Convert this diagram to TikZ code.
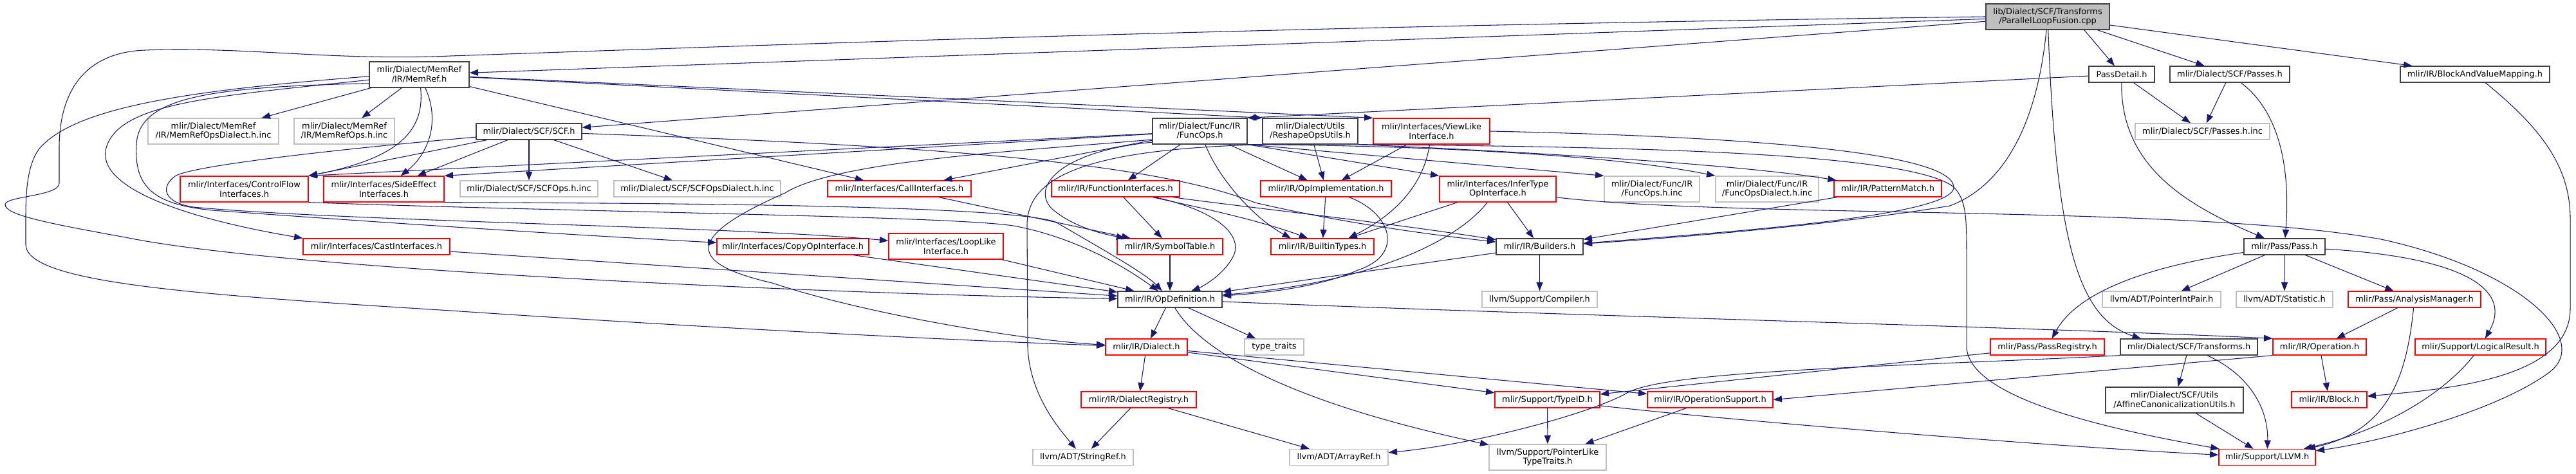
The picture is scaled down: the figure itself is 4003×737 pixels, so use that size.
\documentclass[tikz,border=0pt]{standalone}
\usepackage{fontspec}
\setmainfont{DejaVu Sans}
\usetikzlibrary{arrows.meta}
\definecolor{edgec}{RGB}{25,25,112}
\definecolor{grayb}{RGB}{191,191,191}
\definecolor{blkb}{RGB}{64,64,64}
\definecolor{redb}{RGB}{255,0,0}
\tikzset{
  nbase/.style={rectangle, draw, line width=1pt, inner sep=0pt, align=center, fill=white,
    font=\fontsize{9.7}{11}\selectfont},
  blk/.style={nbase, draw=blkb},
  rd/.style={nbase, draw=redb},
  gr/.style={nbase, draw=grayb},
  rootn/.style={nbase, draw=blkb, fill=grayb},
  nsz/.style 2 args={minimum width=#1*0.75pt, minimum height=#2*0.75pt},
  edge/.style={draw=edgec, line width=0.8pt, -{Triangle[length=10pt,width=7.5pt]}},
}
\begin{document}
\begin{tikzpicture}[x=0.75pt,y=-0.75pt]
\useasboundingbox (0,0) rectangle (4003,737);
% nodes
\node[rootn,nsz={192}{40}] (P) at (3182,26) {lib/Dialect/SCF/Transforms\\/ParallelLoopFusion.cpp};
\node[blk,nsz={155}{40}] (MemRef) at (651.5,116) {mlir/Dialect/MemRef\\/IR/MemRef.h};
\node[blk,nsz={102}{25}] (PassDetail) at (3297,115.5) {PassDetail.h};
\node[blk,nsz={186}{25}] (Passes) at (3465,115.5) {mlir/Dialect/SCF/Passes.h};
\node[blk,nsz={232}{25}] (BAVM) at (3846,115.5) {mlir/IR/BlockAndValueMapping.h};
\node[gr,nsz={203}{40}] (MemRefOpsDialect) at (331.5,204) {mlir/Dialect/MemRef\\/IR/MemRefOpsDialect.h.inc};
\node[gr,nsz={156}{40}] (MemRefOps) at (535,204) {mlir/Dialect/MemRef\\/IR/MemRefOps.h.inc};
\node[blk,nsz={164}{25}] (SCF) at (822,204.5) {mlir/Dialect/SCF/SCF.h};
\node[blk,nsz={147}{40}] (FuncOps) at (1864.5,204) {mlir/Dialect/Func/IR\\/FuncOps.h};
\node[blk,nsz={148}{40}] (Reshape) at (2036,204) {mlir/Dialect/Utils\\/ReshapeOpsUtils.h};
\node[rd,nsz={181}{40}] (ViewLike) at (2224.5,204) {mlir/Interfaces/ViewLike\\Interface.h};
\node[gr,nsz={209}{25}] (PassesInc) at (3422.5,204.5) {mlir/Dialect/SCF/Passes.h.inc};
\node[rd,nsz={199}{40}] (ControlFlow) at (379.5,294) {mlir/Interfaces/ControlFlow\\Interfaces.h};
\node[rd,nsz={187}{40}] (SideEffect) at (596.5,294) {mlir/Interfaces/SideEffect\\Interfaces.h};
\node[gr,nsz={214}{25}] (SCFOpsInc) at (822,293.5) {mlir/Dialect/SCF/SCFOps.h.inc};
\node[gr,nsz={259}{25}] (SCFOpsDialectInc) at (1083.5,293.5) {mlir/Dialect/SCF/SCFOpsDialect.h.inc};
\node[rd,nsz={223}{25}] (CallIf) at (1397.5,293.5) {mlir/Interfaces/CallInterfaces.h};
\node[rd,nsz={199}{25}] (FuncIf) at (1733.5,293.5) {mlir/IR/FunctionInterfaces.h};
\node[rd,nsz={203}{25}] (OpImpl) at (2060.5,293.5) {mlir/IR/OpImplementation.h};
\node[rd,nsz={181}{40}] (InferType) at (2327.5,294) {mlir/Interfaces/InferType\\OpInterface.h};
\node[gr,nsz={148}{40}] (FuncOpsInc) at (2567,294) {mlir/Dialect/Func/IR\\/FuncOps.h.inc};
\node[gr,nsz={160}{40}] (FuncOpsDialectInc) at (2746,294) {mlir/Dialect/Func/IR\\/FuncOpsDialect.h.inc};
\node[rd,nsz={167}{25}] (PatternMatch) at (2933.5,293.5) {mlir/IR/PatternMatch.h};
\node[rd,nsz={228}{25}] (Cast) at (585,383.5) {mlir/Interfaces/CastInterfaces.h};
\node[rd,nsz={236}{25}] (CopyOp) at (1232,383.5) {mlir/Interfaces/CopyOpInterface.h};
\node[rd,nsz={178}{40}] (LoopLike) at (1470,383) {mlir/Interfaces/LoopLike\\Interface.h};
\node[rd,nsz={164}{25}] (SymbolTable) at (1818,383.5) {mlir/IR/SymbolTable.h};
\node[rd,nsz={160}{25}] (BuiltinTypes) at (2055,383.5) {mlir/IR/BuiltinTypes.h};
\node[blk,nsz={135}{25}] (Builders) at (2392.5,383.5) {mlir/IR/Builders.h};
\node[blk,nsz={126}{25}] (Pass) at (3550,383.5) {mlir/Pass/Pass.h};
\node[blk,nsz={162}{25}] (OpDef) at (1818,465.5) {mlir/IR/OpDefinition.h};
\node[gr,nsz={179}{25}] (Compiler) at (2392.5,465.5) {llvm/Support/Compiler.h};
\node[gr,nsz={184}{25}] (PointerIntPair) at (3359,465.5) {llvm/ADT/PointerIntPair.h};
\node[gr,nsz={150}{25}] (Statistic) at (3550,465.5) {llvm/ADT/Statistic.h};
\node[rd,nsz={206}{25}] (AnalysisMgr) at (3752,465.5) {mlir/Pass/AnalysisManager.h};
\node[rd,nsz={127}{25}] (Dialect) at (1781.5,539.5) {mlir/IR/Dialect.h};
\node[gr,nsz={92}{25}] (TypeTraits) at (1980,539.5) {type\_traits};
\node[rd,nsz={177}{25}] (PassRegistry) at (3181.5,539.5) {mlir/Pass/PassRegistry.h};
\node[blk,nsz={213}{25}] (Transforms) at (3401.5,539.5) {mlir/Dialect/SCF/Transforms.h};
\node[rd,nsz={145}{25}] (Operation) at (3604.5,539.5) {mlir/IR/Operation.h};
\node[rd,nsz={203}{25}] (LogicalResult) at (3854.5,539.5) {mlir/Support/LogicalResult.h};
\node[rd,nsz={179}{25}] (DialectRegistry) at (1769.5,621.5) {mlir/IR/DialectRegistry.h};
\node[rd,nsz={163}{25}] (TypeID) at (2404.5,621.5) {mlir/Support/TypeID.h};
\node[rd,nsz={195}{25}] (OpSupport) at (2657.5,621.5) {mlir/IR/OperationSupport.h};
\node[blk,nsz={214}{40}] (Affine) at (3379,622) {mlir/Dialect/SCF/Utils\\/AffineCanonicalizationUtils.h};
\node[rd,nsz={117}{25}] (Block) at (3619.5,621.5) {mlir/IR/Block.h};
\node[gr,nsz={156}{25}] (StringRef) at (1683,711) {llvm/ADT/StringRef.h};
\node[gr,nsz={153}{25}] (ArrayRef) at (2080.5,711) {llvm/ADT/ArrayRef.h};
\node[gr,nsz={182}{40}] (PointerLike) at (2405,711) {llvm/Support/PointerLike\\TypeTraits.h};
\node[rd,nsz={150}{25}] (LLVM) at (3523,711) {mlir/Support/LLVM.h};
% edges from the root
\draw[edge] (P) -- (MemRef);
\draw[edge] (P) -- (SCF);
\draw[edge] (P.-20) -- (PassDetail);
\draw[edge] (P.-15) -- (Passes);
\draw[edge] (P) -- (BAVM);
\draw[edge] (P) .. controls (3195,380) and (3230,495) .. (Transforms.170);
\draw[edge] (P) .. controls (3165,200) and (3110,290) .. (3030,320) .. controls (2850,350) and (2600,370) .. (Builders);
\draw[edge] (P.west) .. controls (2000,40) and (1200,70) .. (700,87) .. controls (520,95) and (380,72) .. (225,78) .. controls (125,82) and (92,150) .. (92,230) -- (92,285) .. controls (92,305) and (8,305) .. (8,318) .. controls (8,335) and (80,348) .. (200,370) .. controls (450,420) and (1300,458) .. (OpDef);
% PassDetail / Passes / BlockAndValueMapping
\draw[edge] (PassDetail) -- (FuncOps.north east);
\draw[edge] (PassDetail) -- (PassesInc);
\draw[edge] (PassDetail) .. controls (3295,260) and (3400,320) .. (Pass);
\draw[edge] (Passes) -- (PassesInc);
\draw[edge] (Passes) .. controls (3550,180) and (3558,280) .. (Pass);
\draw[edge] (BAVM) .. controls (3950,200) and (3994,260) .. (3994,340) -- (3994,480) .. controls (3994,590) and (3800,605) .. (Block);
% MemRef
\draw[edge] (MemRef) -- (MemRefOpsDialect);
\draw[edge] (MemRef) -- (MemRefOps);
\draw[edge] (MemRef) .. controls (660,200) and (625,245) .. (ControlFlow.north east);
\draw[edge] (MemRef) .. controls (685,190) and (665,240) .. (SideEffect);
\draw[edge] (MemRef.182) .. controls (300,140) and (120,165) .. (62,230) .. controls (42,255) and (40,300) .. (40,340) -- (40,380) .. controls (40,440) and (300,458) .. (700,483) .. controls (1100,510) and (1500,530) .. (Dialect);
\draw[edge] (MemRef.186) .. controls (330,150) and (185,160) .. (165,230) .. controls (148,292) and (290,340) .. (Cast.north west);
\draw[edge] (MemRef.190) .. controls (330,135) and (215,150) .. (212,225) .. controls (208,292) and (240,318) .. (330,327) .. controls (620,348) and (900,366) .. (CopyOp);
\draw[edge] (MemRef) -- (Reshape.north west);
\draw[edge] (MemRef) -- (ViewLike.north west);
\draw[edge] (MemRef) -- (CallIf);
% SCF
\draw[edge] (SCF) -- (SCFOpsInc);
\draw[edge] (SCF) -- (SCFOpsDialectInc);
\draw[edge] (SCF) -- (SideEffect);
\draw[edge] (SCF) -- (ControlFlow.north east);
\draw[edge] (SCF.186) .. controls (600,225) and (300,255) .. (272,274) .. controls (250,290) and (252,314) .. (300,322) .. controls (550,345) and (1150,352) .. (LoopLike);
\draw[edge] (SCF) .. controls (1400,225) and (1780,248) .. (1950,315) .. controls (2100,350) and (2250,368) .. (Builders);
% FuncOps
\draw[edge] (FuncOps) -- (ControlFlow.north east);
\draw[edge] (FuncOps) -- (SideEffect.north east);
\draw[edge] (FuncOps) -- (CallIf);
\draw[edge] (FuncOps.190) .. controls (1580,235) and (1300,250) .. (1220,300) .. controls (1060,370) and (1070,410) .. (1200,440) .. controls (1350,490) and (1600,530) .. (Dialect);
\draw[edge] (FuncOps.193) .. controls (1650,235) and (1600,290) .. (1635,325) .. controls (1670,355) and (1720,365) .. (SymbolTable);
\draw[edge] (FuncOps) -- (FuncIf);
\draw[edge] (FuncOps) -- (OpImpl);
\draw[edge] (FuncOps.south east) -- (InferType.north west);
\draw[edge] (FuncOps.south east) -- (FuncOpsInc.north west);
\draw[edge] (FuncOps.south east) .. controls (2200,226) and (2500,240) .. (FuncOpsDialectInc.north west);
\draw[edge] (FuncOps) .. controls (1895,280) and (1950,340) .. (BuiltinTypes.165);
% Reshape
\draw[edge] (Reshape) -- (OpImpl);
\draw[edge] (Reshape.south east) .. controls (2350,235) and (2700,255) .. (PatternMatch);
\draw[edge] (Reshape.south west) .. controls (1700,232) and (1596,270) .. (1596,350) -- (1597,540) .. controls (1600,610) and (1640,660) .. (StringRef);
\draw[edge] (Reshape.south east) .. controls (2500,228) and (2960,235) .. (3035,290) .. controls (3056,310) and (3056,340) .. (3056,400) -- (3056,540) .. controls (3060,620) and (3280,668) .. (LLVM);
% ViewLike
\draw[edge] (ViewLike) -- (OpImpl);
\draw[edge] (ViewLike) .. controls (2212,290) and (2165,335) .. (BuiltinTypes.18);
\draw[edge] (ViewLike.east) .. controls (2700,212) and (3030,235) .. (3036,290) .. controls (3042,335) and (2700,360) .. (Builders);
% interfaces
\draw[edge] (CallIf) -- (SymbolTable);
\draw[edge] (FuncIf) -- (SymbolTable);
\draw[edge] (FuncIf) .. controls (1880,325) and (1930,360) .. (1918,395) .. controls (1905,425) and (1870,445) .. (OpDef);
\draw[edge] (FuncIf) .. controls (1850,320) and (1950,340) .. (BuiltinTypes.150);
\draw[edge] (FuncIf) .. controls (1900,318) and (2150,345) .. (Builders);
\draw[edge] (SymbolTable) -- (OpDef);
\draw[edge] (LoopLike) -- (OpDef);
\draw[edge] (CopyOp) -- (OpDef);
\draw[edge] (Cast) -- (OpDef);
\draw[edge] (ControlFlow.south east) .. controls (900,330) and (1500,336) .. (1580,352) .. controls (1680,372) and (1755,420) .. (OpDef);
\draw[edge] (SideEffect.south east) .. controls (1000,316) and (1560,318) .. (1640,345) .. controls (1700,380) and (1780,425) .. (OpDef);
% InferType / OpImplementation / Builders / PatternMatch
\draw[edge] (InferType) -- (BuiltinTypes.18);
\draw[edge] (InferType) .. controls (2260,380) and (2120,440) .. (OpDef);
\draw[edge] (InferType) -- (Builders);
\draw[edge] (InferType.352) .. controls (2700,340) and (3400,318) .. (3700,372) .. controls (3920,420) and (4030,530) .. (3960,580) .. controls (3870,645) and (3680,690) .. (LLVM);
\draw[edge] (OpImpl) -- (BuiltinTypes);
\draw[edge] (OpImpl) .. controls (2160,330) and (2185,395) .. (2110,420) .. controls (2050,447) and (1960,456) .. (OpDef);
\draw[edge] (Builders) -- (Compiler);
\draw[edge] (Builders) -- (OpDef);
\draw[edge] (PatternMatch) -- (Builders);
% OpDefinition and below
\draw[edge] (OpDef) -- (Dialect);
\draw[edge] (OpDef) -- (TypeTraits);
\draw[edge] (OpDef) .. controls (2400,490) and (3200,510) .. (Operation.north west);
\draw[edge] (OpDef) .. controls (1865,545) and (2000,625) .. (PointerLike);
\draw[edge] (Dialect) -- (DialectRegistry);
\draw[edge] (Dialect) -- (TypeID);
\draw[edge] (Dialect) -- (OpSupport);
\draw[edge] (DialectRegistry) -- (StringRef);
\draw[edge] (DialectRegistry) -- (ArrayRef);
\draw[edge] (TypeID) -- (PointerLike);
\draw[edge] (TypeID) .. controls (2700,655) and (3200,695) .. (LLVM);
\draw[edge] (OpSupport) -- (PointerLike);
% right part
\draw[edge] (Transforms) -- (Affine);
\draw[edge] (Transforms) .. controls (3500,585) and (3525,640) .. (LLVM);
\draw[edge] (Transforms.south west) .. controls (2950,570) and (2600,575) .. (2530,610) .. controls (2480,640) and (2300,690) .. (ArrayRef);
\draw[edge] (Affine) -- (LLVM);
\draw[edge] (PassRegistry) -- (TypeID);
\draw[edge] (Pass) .. controls (3350,412) and (3230,450) .. (PassRegistry);
\draw[edge] (Pass) -- (PointerIntPair);
\draw[edge] (Pass) -- (Statistic);
\draw[edge] (Pass) -- (AnalysisMgr);
\draw[edge] (Pass) .. controls (3800,398) and (3910,440) .. (LogicalResult);
\draw[edge] (AnalysisMgr) -- (Operation);
\draw[edge] (AnalysisMgr) .. controls (3740,580) and (3715,670) .. (LLVM);
\draw[edge] (Operation) -- (Block);
\draw[edge] (Operation.south west) -- (OpSupport.east);
\draw[edge] (LogicalResult) .. controls (3795,615) and (3700,670) .. (LLVM);
\end{tikzpicture}
\end{document}
